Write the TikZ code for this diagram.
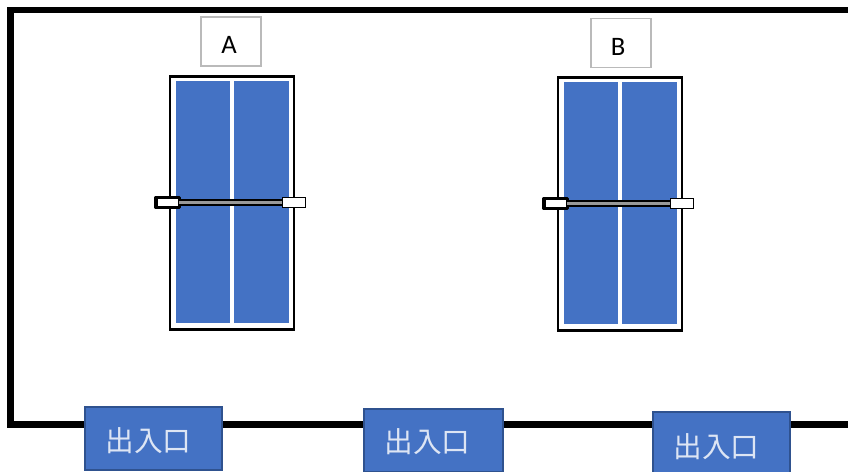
\documentclass[tikz,border=0pt]{standalone}
\usepackage{fontspec}
\setmainfont{Carlito}
\newfontfamily\cjk{Noto Sans CJK JP}
\definecolor{panelblue}{HTML}{4472C4}
\definecolor{doorline}{HTML}{2F528F}
\tikzset{
    frameline/.style={line width=4.6pt,line cap=rect,line join=miter},
    sizebox/.style={inner sep=0pt,outer sep=0pt,anchor=center},
    tablebox/.style={sizebox,draw=black,line width=2.1pt,minimum width=93pt,minimum height=190pt},
    panel/.style={sizebox,fill=panelblue,minimum width=40.5pt,minimum height=181pt},
    netline/.style={draw=black,line width=5.6pt},
    netcore/.style={draw=black!40,line width=1.9pt},
    postleft/.style={sizebox,draw=black,fill=white,line width=2.5pt,line join=round,minimum width=17.5pt,minimum height=7.5pt},
    postright/.style={sizebox,draw=black,fill=white,line width=0.9pt,minimum width=17.5pt,minimum height=7.5pt},
    namebox/.style={sizebox,draw=black!27,line width=1.2pt,fill=white,minimum width=45pt,minimum height=36.5pt},
    nametext/.style={inner sep=0pt,font=\fontsize{20}{20}\selectfont},
    doorbox/.style={sizebox,draw=doorline,line width=1.5pt,fill=panelblue,minimum width=102.5pt,minimum height=47pt},
    doortext/.style={inner sep=0pt,text=white!82!panelblue,font=\cjk\fontsize{21.5}{21.5}\selectfont}
}
\begin{document}
\begin{tikzpicture}[x=0.75pt,y=-0.75pt]
    \useasboundingbox (0,0) rectangle (848,471);
    \fill[white] (0,0) rectangle (848,471);
    % outer wall
    \coordinate (walltop) at (848,10);
    \coordinate (wallnw) at (10.5,10);
    \coordinate (wallsw) at (10.5,424.5);
    \coordinate (wallbot) at (848,424.5);
    \draw[frameline] (walltop) -- (wallnw) -- (wallsw) -- (wallbot);
    % two tables
    \foreach \tname/\tx/\ty in {A/232/203, B/620/204}{
        \node[tablebox] (table\tname) at (\tx,\ty) {};
        \node[panel] (panel\tname l) at (\tx-29.5,\ty-1) {};
        \node[panel,minimum width=41.25pt] (panel\tname r) at (\tx+29.5,\ty-1) {};
        \node[postleft] (post\tname l) at (\tx-64.5,\ty-0.5) {};
        \node[postright] (post\tname r) at (\tx+62,\ty-0.5) {};
        \draw[netline] (post\tname l.east) -- (post\tname r.west);
        \draw[netcore] (post\tname l.east) -- (post\tname r.west);
    }
    % table names
    \node[namebox] (nameA) at (231,41.5) {};
    \node[nametext] (textA) at (229,45) {A};
    \node[namebox] (nameB) at (621,43) {};
    \node[nametext] (textB) at (618,47) {B};
    % doors
    \node[doorbox] (door1) at (153.5,438.5) {};
    \node[doortext] (door1text) at (148.5,441) {出入口};
    \node[doorbox,minimum width=104pt] (door2) at (433.5,440.5) {};
    \node[doortext] (door2text) at (427.5,442) {出入口};
    \node[doorbox] (door3) at (721.5,443.5) {};
    \node[doortext] (door3text) at (716.5,447) {出入口};
\end{tikzpicture}
\end{document}
